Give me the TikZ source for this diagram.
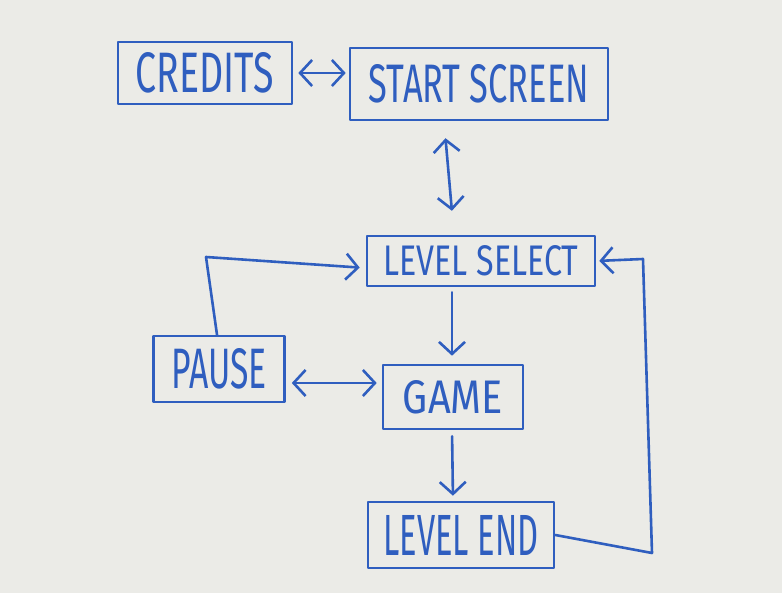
\documentclass[tikz,border=0pt]{standalone}
\usepackage{fontspec}
\setmainfont{Fira Sans}
\usetikzlibrary{arrows.meta}

\definecolor{marker}{HTML}{2F5EBF}
\definecolor{board}{HTML}{EBEBE7}

% hand lettering squeezed to the size it has on the board
\newcommand{\scrawl}[3]{\resizebox{#1pt}{#2pt}{#3}}

\tikzset{
  screenbox/.style={draw=marker, line width=2.6pt, line join=round,
    text=marker, inner sep=0pt},
  wire/.style={draw=marker, line width=2.6pt, line cap=round, line join=round},
}

\begin{document}
\begin{tikzpicture}[x=1pt,y=-1pt,>={Straight Barb[length=12pt,width=26pt]}]

% Whiteboard
\fill[board] (0,0) rectangle (782,593);
\useasboundingbox (0,0) rectangle (782,593);

% Screens
\node[screenbox, minimum width=174pt, minimum height=62pt] (credits) at (205,73)
  {\scrawl{138}{40}{CREDITS}};
\node[screenbox, minimum width=258pt, minimum height=72pt] (start) at (479,84)
  {\scrawl{220}{38}{START SCREEN}};
\node[screenbox, minimum width=228pt, minimum height=50pt] (levelsel) at (481,261)
  {\scrawl{195}{30}{LEVEL SELECT}};
\node[screenbox, minimum width=131pt, minimum height=66pt] (pause) at (219,369)
  {\scrawl{95}{40}{PAUSE}};
\node[screenbox, minimum width=140pt, minimum height=64pt] (game) at (453,397)
  {\scrawl{100}{33}{GAME}};
\node[screenbox, minimum width=186pt, minimum height=66pt] (levelend) at (461,535)
  {\scrawl{155}{40}{LEVEL END}};

% Bends of the long lines
\coordinate (pausebend) at (206,257);
\coordinate (loopbot) at (652,553);
\coordinate (looptop) at (643,259);

% Transitions
\draw[wire,<->,shorten <=5pt,shorten >=3pt] (credits.east) -- (credits.east -| start.west);
\draw[wire,<->,shorten <=17pt,shorten >=24pt]
  ([xshift=-35pt]start.south) -- ([xshift=-27pt]levelsel.north);
\draw[wire,->,shorten <=5pt,shorten >=8pt]
  ([xshift=-29pt]levelsel.south) -- ([xshift=-1pt]game.north);
\draw[wire,<->,shorten <=6pt,shorten >=5pt]
  ([yshift=-14pt]pause.east) -- ([yshift=-14pt]pause.east -| game.west);
\draw[wire,->,shorten <=6pt,shorten >=5pt]
  ([xshift=-1pt]game.south) -- ([xshift=-8pt]levelend.north);

% Back to level select
\draw[wire,->,shorten >=6pt]
  ([xshift=-2pt]pause.north) -- (pausebend) -- ([yshift=-7pt]levelsel.west);
\draw[wire,->,shorten >=3pt]
  (levelend.east) -- (loopbot) -- (looptop) -- (levelsel.east);

\end{tikzpicture}
\end{document}
